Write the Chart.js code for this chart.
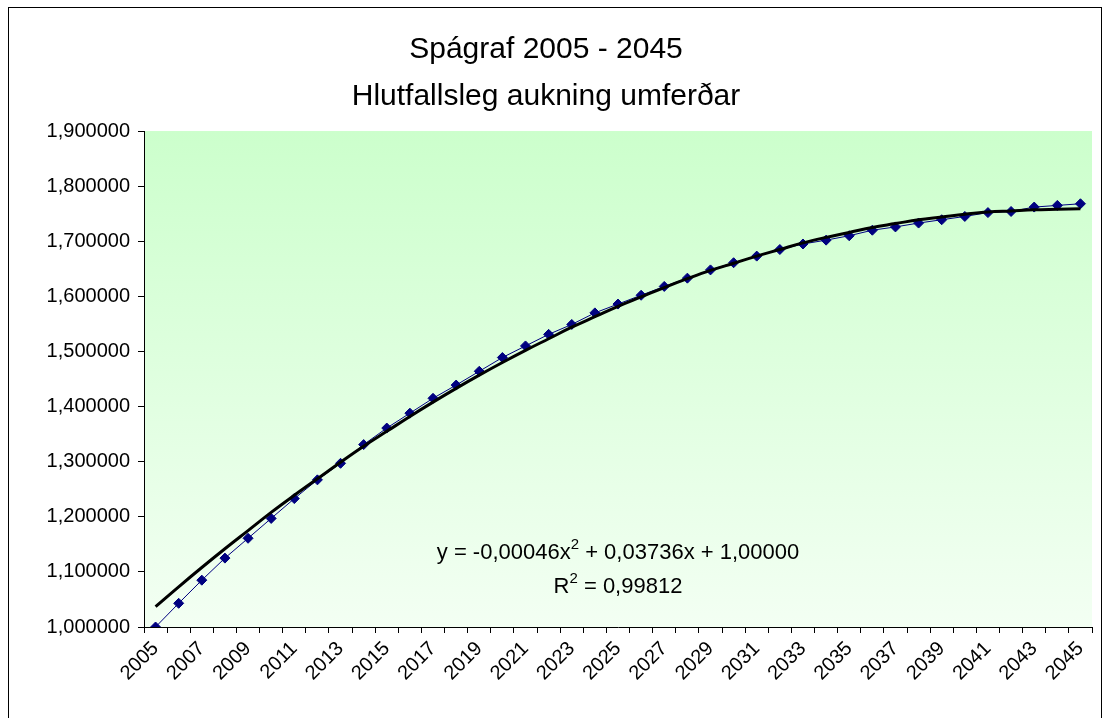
<!DOCTYPE html>
<html>
<head>
<meta charset="utf-8">
<script src="https://cdn.jsdelivr.net/npm/chart.js@4.4.0/dist/chart.umd.min.js"></script>
<style>
  html, body { margin: 0; padding: 0; background: #fff; }
  #wrap { width: 1104px; height: 718px; position: relative; }
</style>
</head>
<body>
<div id="wrap"><canvas id="spa"></canvas></div>
<script>
// ár 2005 - 2045
const years = [];
for (let y = 2005; y <= 2045; y++) years.push(String(y));

// hlutfallsleg aukning (lesið af mynd)
const aukning = [
  1.000, 1.043, 1.085, 1.125, 1.161, 1.197, 1.233, 1.267, 1.297, 1.331,
  1.361, 1.388, 1.415, 1.439, 1.464, 1.489, 1.510, 1.531, 1.549, 1.570,
  1.586, 1.602, 1.618, 1.633, 1.648, 1.661, 1.673, 1.685, 1.695, 1.702,
  1.710, 1.720, 1.726, 1.733, 1.739, 1.745, 1.752, 1.754, 1.762, 1.765, 1.768
];

// leitnilína (polynomial, 2. stig)
const leitni = [
  1.037, 1.073, 1.108, 1.142, 1.175, 1.208, 1.239, 1.269, 1.299, 1.328,
  1.355, 1.382, 1.408, 1.433, 1.457, 1.480, 1.502, 1.523, 1.544, 1.563,
  1.582, 1.599, 1.616, 1.632, 1.647, 1.660, 1.673, 1.685, 1.697, 1.707,
  1.716, 1.725, 1.732, 1.739, 1.744, 1.749, 1.753, 1.755, 1.757, 1.758, 1.759
];

const eqLeft = 'y = -0,00046x';
const eqRight = ' + 0,03736x + 1,00000';
const r2Left = 'R';
const r2Right = ' = 0,99812';

const FONT = '"Liberation Sans", Arial, sans-serif';

const frame = {
  id: 'frame',
  beforeDraw(chart) {
    const ctx = chart.ctx, a = chart.chartArea;
    ctx.save();
    ctx.fillStyle = '#fff';
    ctx.fillRect(0, 0, chart.width, chart.height);
    const g = ctx.createLinearGradient(0, a.top, 0, a.bottom);
    g.addColorStop(0, '#ccffcc');
    g.addColorStop(1, '#f3fff3');
    ctx.fillStyle = g;
    ctx.fillRect(a.left, a.top, a.right - a.left, a.bottom - a.top);
    ctx.strokeStyle = '#000';
    ctx.lineWidth = 1;
    ctx.strokeRect(8.5, 7.5, 1093, 730);
    ctx.restore();
  },
  afterDraw(chart) {
    const ctx = chart.ctx, a = chart.chartArea;
    const cx = (a.left + a.right) / 2;
    ctx.save();
    ctx.fillStyle = '#000';
    ctx.textBaseline = 'middle';
    ctx.textAlign = 'left';
    const big = '22px ' + FONT, small = '15px ' + FONT;
    function line(left, right, y) {
      ctx.font = big;
      const w1 = ctx.measureText(left).width, w3 = ctx.measureText(right).width;
      ctx.font = small;
      const w2 = ctx.measureText('2').width;
      let x = cx - (w1 + w2 + w3) / 2;
      ctx.font = big; ctx.fillText(left, x, y); x += w1;
      ctx.font = small; ctx.fillText('2', x, y - 8); x += w2;
      ctx.font = big; ctx.fillText(right, x, y);
    }
    line(eqLeft, eqRight, a.top + (a.bottom - a.top) * 0.851);
    line(r2Left, r2Right, a.top + (a.bottom - a.top) * 0.919);
    ctx.restore();
  }
};

new Chart(document.getElementById('spa'), {
  type: 'line',
  data: {
    labels: years,
    datasets: [{
      label: 'Leitni',
      data: leitni,
      borderColor: '#000',
      borderWidth: 3,
      pointRadius: 0,
      tension: 0.4,
      order: 1
    }, {
      label: 'Aukning',
      data: aukning,
      borderColor: '#000080',
      backgroundColor: '#000080',
      borderWidth: 1,
      pointStyle: 'rectRot',
      pointRadius: 5,
      pointBorderWidth: 1,
      tension: 0,
      order: 2
    }]
  },
  options: {
    responsive: true,
    maintainAspectRatio: false,
    animation: false,
    layout: { padding: { left: 0, right: 12, top: 0, bottom: 0 } },
    plugins: {
      legend: { display: false },
      tooltip: { enabled: false },
      title: {
        display: true,
        text: ['Spágraf 2005 - 2045', 'Hlutfallsleg aukning umferðar'],
        color: '#000',
        font: { family: FONT, size: 30, weight: 'normal', lineHeight: 1.567 },
        padding: { top: 26, bottom: 11 }
      }
    },
    scales: {
      x: {
        offset: true,
        grid: { offset: true, drawOnChartArea: false, color: '#000', tickLength: 6 },
        border: { color: '#000' },
        ticks: {
          autoSkip: false,
          maxRotation: 45,
          minRotation: 45,
          color: '#000',
          padding: 4,
          font: { family: FONT, size: 20 },
          callback: (v, i) => i % 2 === 0 ? years[i] : ''
        },
        afterFit: s => { s.height = 91; }
      },
      y: {
        min: 1.0,
        max: 1.9,
        grid: { drawOnChartArea: false, color: '#000', tickLength: 6 },
        border: { color: '#000' },
        ticks: {
          stepSize: 0.1,
          color: '#000',
          padding: 8,
          font: { family: FONT, size: 20 },
          callback: v => v.toFixed(6).replace('.', ',')
        },
        afterFit: s => { s.width = 144; }
      }
    }
  },
  plugins: [frame]
});
</script>
</body>
</html>
